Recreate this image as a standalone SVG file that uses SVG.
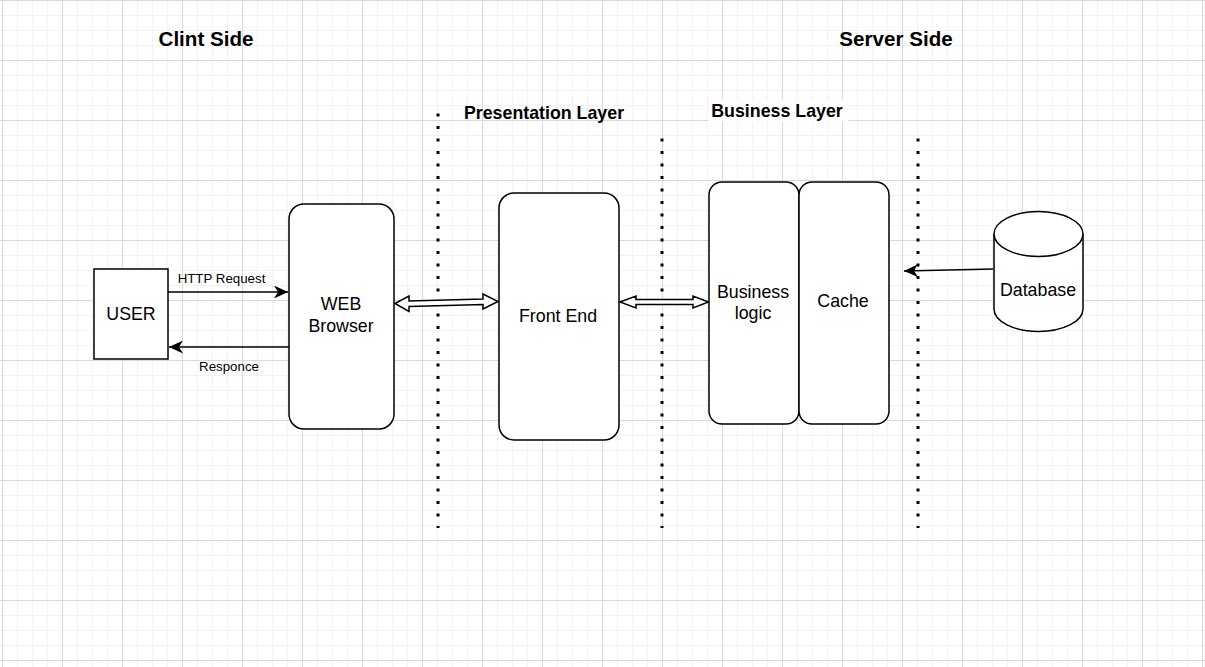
<svg xmlns="http://www.w3.org/2000/svg" width="1205" height="667" viewBox="0 0 1205 667">
  <style>
    .node { fill: #ffffff; stroke: #000000; stroke-width: 1.5; }
    .lbl { font-family: "Liberation Sans", Arial, sans-serif; font-size: 17.8px; fill: #000000; text-anchor: middle; }
    .small { font-family: "Liberation Sans", Arial, sans-serif; font-size: 13.3px; fill: #000000; text-anchor: middle; }
    .title { font-family: "Liberation Sans", Arial, sans-serif; font-weight: bold; font-size: 20.6px; fill: #000000; text-anchor: middle; }
    .layer { font-family: "Liberation Sans", Arial, sans-serif; font-weight: bold; font-size: 17.8px; fill: #000000; text-anchor: middle; }
    .edge { fill: none; stroke: #000000; stroke-width: 1.6; }
    .flex { fill: #ffffff; stroke: #000000; stroke-width: 1.5; stroke-linejoin: miter; }
    .divider { fill: none; stroke: #000000; stroke-width: 3; stroke-dasharray: 3 9.5; }
  </style>
  <defs>
    <pattern id="grid" x="2" y="0" width="60" height="60" patternUnits="userSpaceOnUse">
      <rect width="60" height="60" fill="#ffffff"/>
      <path d="M15.5,0 V60 M30.5,0 V60 M45.5,0 V60 M0,15.5 H60 M0,30.5 H60 M0,45.5 H60" stroke="#f2f2f2" stroke-width="1"/>
      <path d="M0.5,0 V60 M0,0.5 H60" stroke="#dadada" stroke-width="1"/>
    </pattern>
    <marker id="arrow" viewBox="0 0 14 13" refX="14" refY="6.5" markerWidth="14" markerHeight="13" markerUnits="userSpaceOnUse" orient="auto">
      <path d="M0,0 L14,6.5 L0,13 L4,6.5 Z" fill="#000000"/>
    </marker>
  </defs>

  <!-- canvas grid -->
  <rect x="0" y="0" width="1205" height="667" fill="url(#grid)"/>

  <!-- headings -->
  <g id="titles">
    <text class="title" x="206" y="46">Clint Side</text>
    <text class="title" x="896" y="46">Server Side</text>
    <text class="layer" x="544" y="119">Presentation Layer</text>
    <rect x="708" y="100" width="140" height="22" fill="#ffffff"/>
    <text class="layer" x="777" y="117">Business Layer</text>
  </g>

  <!-- tier dividers -->
  <g id="dividers">
    <line class="divider" x1="438" y1="113.5" x2="438" y2="528"/>
    <line class="divider" x1="662" y1="138.5" x2="662" y2="528"/>
    <line class="divider" x1="918" y1="138.5" x2="918" y2="528"/>
  </g>

  <!-- connectors -->
  <g id="connectors">
    <line class="edge" x1="168" y1="292" x2="288" y2="292" marker-end="url(#arrow)"/>
    <text class="small" x="221.5" y="282.5">HTTP Request</text>
    <line class="edge" x1="289" y1="347" x2="169" y2="347" marker-end="url(#arrow)"/>
    <text class="small" x="229" y="370.5">Responce</text>
    <!-- browser <-> front end -->
    <polygon class="flex" points="395,303.5 409,296 409,301 483,299 483,294 498,301.5 483,309 483,304.5 409,306.5 409,311.5"/>
    <!-- front end <-> business logic -->
    <polygon class="flex" points="620,302 636,296 636,299.5 693,299.5 693,296 708.5,302 693,308 693,304.5 636,304.5 636,308"/>
    <!-- database -> cache -->
    <line class="edge" x1="993" y1="269" x2="904" y2="271" marker-end="url(#arrow)"/>
  </g>

  <!-- nodes -->
  <g id="user">
    <rect class="node" x="94" y="269" width="74" height="90"/>
    <text class="lbl" x="131" y="320">USER</text>
  </g>
  <g id="web-browser">
    <rect class="node" x="289" y="204" width="105" height="225" rx="15" ry="15"/>
    <text class="lbl" x="341" y="310">WEB</text>
    <text class="lbl" x="341" y="332">Browser</text>
  </g>
  <g id="front-end">
    <rect class="node" x="499" y="193" width="120" height="247" rx="15" ry="15"/>
    <text class="lbl" x="558" y="322">Front End</text>
  </g>
  <g id="business-logic">
    <rect class="node" x="709" y="182" width="90" height="242" rx="13" ry="13"/>
    <text class="lbl" x="753" y="298">Business</text>
    <text class="lbl" x="753" y="319">logic</text>
  </g>
  <g id="cache">
    <rect class="node" x="799" y="182" width="90" height="242" rx="13" ry="13"/>
    <text class="lbl" x="843" y="307">Cache</text>
  </g>
  <g id="database">
    <path class="node" d="M994,234 A44.5,22.5 0 0 1 1083,234 V309 A44.5,22.5 0 0 1 994,309 Z"/>
    <path class="node" fill="none" d="M994,234 A44.5,22.5 0 0 0 1083,234"/>
    <text class="lbl" x="1038" y="296">Database</text>
  </g>
</svg>
